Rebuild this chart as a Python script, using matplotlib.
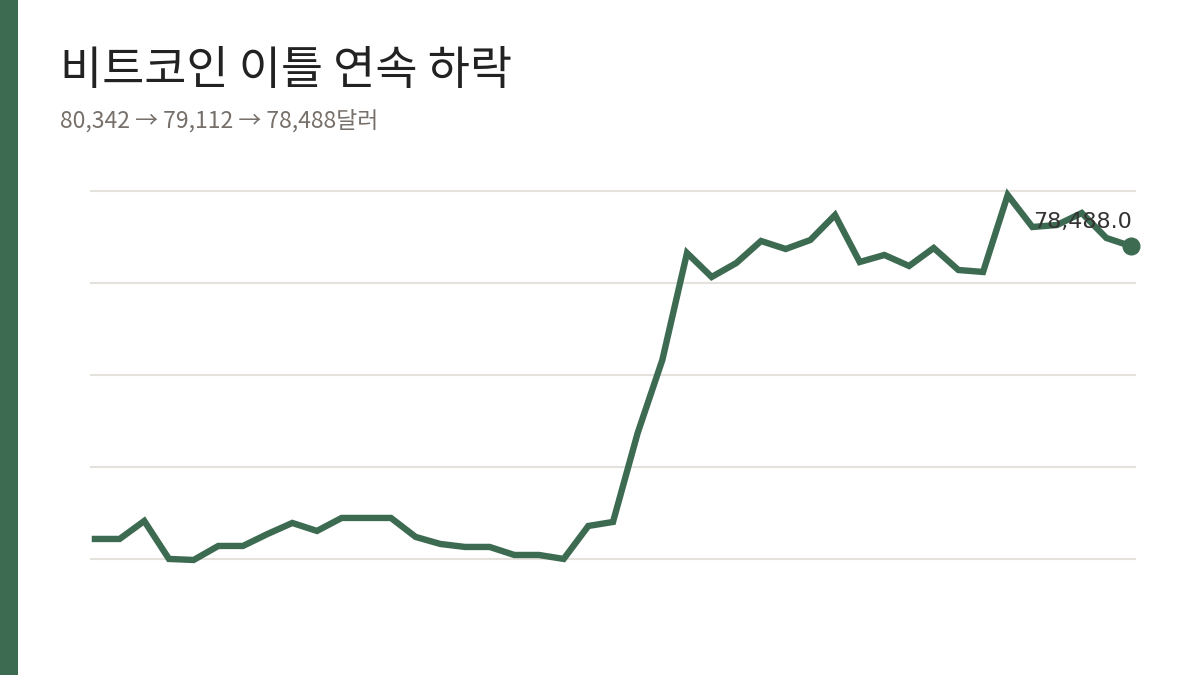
import matplotlib
matplotlib.use('Agg')
from matplotlib import pyplot as plt
from matplotlib.patches import Rectangle
import numpy as np

plt.rcParams['font.family'] = ['Noto Sans CJK KR', 'DejaVu Sans']

# 비트코인 가격 (달러), 화면에서 읽은 값
prices = [70531, 70531, 71020, 69988, 69960, 70341, 70341, 70667, 70966, 70749,
          71102, 71102, 71102, 70586, 70395, 70314, 70314, 70096, 70096, 69988,
          70884, 70993, 73411, 75395, 78302, 77650, 78030, 78628, 78411, 78655,
          79334, 78057, 78248, 77949, 78438, 77840, 77786, 79878, 79008, 79063,
          79389, 78709, 78488]
grid_values = [70000, 72500, 75000, 77500, 80000]

title = "비트코인 이틀 연속 하락"
subtitle = "80,342 → 79,112 → 78,488달러"

green = '#3d6b52'

fig = plt.figure(figsize=(12, 6.75), dpi=100)
fig.patches.append(Rectangle((0, 0), 18 / 1200, 1, transform=fig.transFigure,
                             facecolor=green, edgecolor='none'))

# 축 위치: 픽셀 좌표에서 맞춤 (x 90~1136, y 180~575)
ax = fig.add_axes([90 / 1200, 1 - 575 / 675, (1136 - 90) / 1200, (575 - 180) / 675])
x = np.arange(len(prices))
ax.plot(x, prices, color=green, linewidth=4.6, solid_joinstyle='miter', zorder=3)
ax.plot(x[-1], prices[-1], 'o', color=green, markersize=12, zorder=4, clip_on=False)
ax.annotate(f"{prices[-1]:,.1f}", (x[-1], prices[-1]), xytext=(1, 10),
            textcoords='offset points', ha='right', va='bottom',
            fontsize=16, color='#333333', family=['DejaVu Sans'], zorder=5)

ax.set_xlim(-0.2, len(prices) - 1 + 0.2)
px = 2500 / 92  # 값 / 픽셀
ax.set_ylim(80000 - (575 - 190.5) * px, 80000 + (190.5 - 180) * px)
ax.set_yticks(grid_values)
ax.yaxis.grid(True, color='#e5e1dc', linewidth=1.5)
ax.set_axisbelow(True)
ax.tick_params(left=False, bottom=False, labelleft=False, labelbottom=False)
for s in ax.spines.values():
    s.set_visible(False)

fig.text(60 / 1200, 1 - 84 / 675, title, fontsize=33, color='#222222',
         va='baseline', fontweight='light')
fig.text(60 / 1200, 1 - 128 / 675, subtitle, fontsize=16.5, color='#77706a',
         va='baseline', fontweight='light')

fig.savefig('out.png', dpi=100)
